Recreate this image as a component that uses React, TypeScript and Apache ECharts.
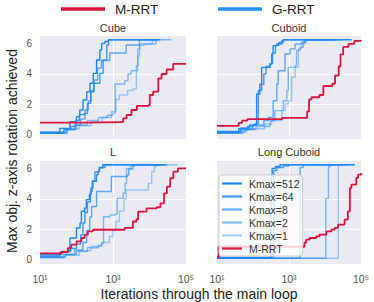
import React, { useEffect, useRef } from "react";
import * as echarts from "echarts";

const panelTitles = ["Cube", "Cuboid", "L", "Long Cuboid"];
const seriesNames = ["Kmax=512", "Kmax=64", "Kmax=8", "Kmax=2", "Kmax=1", "M-RRT"];
const yTicks = [0, 2, 4, 6];
const xTicks = [10, 1000, 100000];
const xTickLabels = ["10\u00b9", "10\u00b3", "10\u2075"];
const topLegend = ["M-RRT", "G-RRT"];
const xAxisTitle = "Iterations through the main loop";
const yAxisTitle = "Max obj. z-axis rotation achieved";

// Cube
const cubeK512 = [[10,0.1],[32,0.1],[35,0.38],[60,0.38],[66,0.82],[100,1.16],[123,1.6],[151,2.27],[191,2.82],[234,3.38],[288,4.04],[355,4.93],[437,5.6],[490,6.04],[603,6.16],[741,6.28],[20000,6.28]];
const cubeK64 = [[10,0.05],[40,0.05],[45,0.3],[70,0.5],[95,0.9],[120,1.3],[166,1.38],[200,2.04],[245,2.82],[302,3.38],[437,4.04],[537,4.93],[676,5.93],[760,6.28],[15000,6.28]];
const cubeK8 = [[10,0.05],[45,0.05],[55,0.3],[90,0.6],[130,1.0],[170,1.6],[210,2.2],[250,2.9],[300,3.6],[380,4.4],[480,4.9],[813,5.4],[2190,5.4],[2300,5.93],[4500,5.93],[5300,6.28],[16000,6.28]];
const cubeK2 = [[10,0.1],[40,0.1],[50,0.3],[100,0.6],[200,0.9],[400,1.1],[700,1.25],[1000,1.4],[1150,3.33],[1860,3.33],[2090,3.56],[2570,4.0],[3160,4.22],[4370,4.56],[4790,5.67],[5370,6.0],[13800,6.0],[15000,6.28],[40000,6.28]];
const cubeK1 = [[10,0.15],[40,0.15],[55,0.35],[120,0.55],[250,0.8],[500,1.1],[900,1.5],[1200,2.3],[1500,2.6],[2500,2.9],[3500,3.0],[4370,4.2],[4790,5.2],[5370,5.9],[7000,6.0],[12000,6.28],[20000,6.28]];
const cubeM = [[10,0.76],[150,0.76],[160,0.8],[1550,0.8],[1900,1.04],[2350,1.27],[3200,1.6],[4500,1.87],[9300,1.93],[10200,2.6],[12600,2.82],[17400,3.7],[21400,4.0],[29500,4.3],[44700,4.67],[100000,4.67]];

// Cuboid
const cuboidK512 = [[10,0.1],[35,0.1],[40,0.35],[70,0.5],[100,0.6],[115,0.67],[126,2.67],[155,3.33],[174,4.44],[214,4.44],[295,4.67],[331,5.33],[363,5.89],[457,6.0],[631,6.22],[700,6.28],[55000,6.28]];
const cuboidK64 = [[10,0.15],[35,0.15],[45,0.4],[80,0.6],[126,0.7],[140,2.9],[174,3.3],[200,4.0],[230,4.5],[300,4.7],[350,5.4],[420,5.9],[520,6.1],[700,6.28],[30000,6.28]];
const cuboidK8 = [[10,0.05],[40,0.05],[50,0.3],[100,0.6],[200,0.9],[267,1.11],[363,2.22],[457,3.33],[501,4.22],[776,5.33],[1070,5.67],[1480,6.0],[2240,6.11],[2750,6.28],[20000,6.28]];
const cuboidK2 = [[10,0.1],[40,0.1],[60,0.3],[120,0.5],[295,0.89],[407,1.56],[692,2.22],[871,2.89],[955,4.44],[1480,4.56],[1620,5.56],[2040,5.78],[2510,6.11],[3000,6.28],[15000,6.28]];
const cuboidK1 = [[10,0.2],[40,0.2],[70,0.35],[214,0.67],[331,0.9],[631,1.56],[776,2.0],[955,2.2],[1175,3.78],[1480,4.44],[1820,5.67],[2240,6.0],[2750,6.22],[3500,6.28],[12000,6.28]];
const cuboidM = [[10,0.55],[35,0.55],[40,0.75],[50,0.9],[70,1.0],[620,1.0],[650,1.08],[3000,1.08],[3200,1.5],[3600,2.3],[4200,2.45],[7000,2.6],[9000,3.2],[16000,3.35],[19000,3.9],[24000,4.5],[27000,5.3],[32000,5.8],[45000,6.0],[65000,6.2],[100000,6.25]];

// L
const lK512 = [[10,0.2],[31,0.2],[35,0.45],[58,0.55],[66,1.4],[91,1.4],[100,2.07],[125,2.4],[136,3.18],[167,3.4],[186,3.96],[226,4.29],[251,4.73],[282,5.18],[352,5.62],[389,5.84],[427,6.07],[525,6.28],[20000,6.28]];
const lK64 = [[10,0.3],[35,0.3],[40,0.5],[70,0.7],[100,1.0],[130,1.6],[150,2.4],[170,3.1],[200,3.8],[240,4.5],[270,5.2],[320,5.8],[420,6.1],[600,6.28],[25000,6.28]];
const lK8 = [[10,0.1],[35,0.1],[45,0.3],[90,0.6],[150,1.1],[190,1.9],[230,2.8],[260,3.5],[355,4.5],[830,4.5],[900,5.5],[2500,5.6],[2700,6.0],[3500,6.28],[30000,6.28]];
const lK2 = [[10,0.15],[35,0.15],[50,0.3],[100,0.5],[200,0.75],[400,0.9],[480,1.04],[550,2.82],[830,2.93],[1150,3.0],[1300,4.04],[1900,4.38],[2140,5.04],[2350,6.04],[3000,6.2],[4000,6.28],[30000,6.28]];
const lK1 = [[10,0.1],[35,0.1],[50,0.25],[120,0.55],[250,0.85],[500,1.1],[800,1.5],[1000,1.9],[1200,2.5],[1500,3.2],[2000,4.0],[2300,4.6],[8300,4.6],[9300,5.04],[11500,5.82],[13500,6.16],[15800,6.28],[60000,6.28]];
const lM = [[10,0.38],[30,0.38],[38,0.47],[58,0.73],[72,0.96],[100,1.18],[136,1.4],[167,1.62],[205,1.84],[282,1.95],[1700,1.95],[2100,2.07],[3500,2.5],[4400,2.65],[4900,3.16],[8300,3.38],[15600,3.45],[20000,3.71],[25000,4.38],[30000,4.82],[37000,5.38],[45000,5.82],[60000,6.04],[100000,6.07]];

// Long Cuboid
const longK512 = [[10,0.15],[12,0.05],[310,0.05],[320,5.6],[340,6.04],[420,6.16],[560,6.28],[68000,6.28]];
const longK64 = [[10,0.1],[370,0.1],[380,5.9],[460,6.1],[700,6.2],[1000,6.28],[40000,6.28]];
const longK8 = [[10,0.05],[2000,0.05],[2040,6.1],[2500,6.28],[30000,6.28]];
const longK2 = [[10,0.05],[10000,0.05],[10500,4.04],[12500,6.16],[14000,6.28],[20000,6.28]];
const longK1 = [[10,0.05],[22000,0.05],[23400,6.28],[60000,6.28]];
const longM = [[10,0.1],[11,0.82],[2500,0.82],[2700,1.1],[3000,1.29],[3700,1.4],[5700,1.51],[7000,1.62],[11000,1.84],[15000,1.96],[18700,2.07],[23000,2.29],[35000,2.62],[43000,3.18],[49000,4.73],[54000,4.96],[74000,5.4],[83000,5.62],[100000,5.73]];

const panelData = [
  [cubeK512, cubeK64, cubeK8, cubeK2, cubeK1, cubeM],
  [cuboidK512, cuboidK64, cuboidK8, cuboidK2, cuboidK1, cuboidM],
  [lK512, lK64, lK8, lK2, lK1, lM],
  [longK512, longK64, longK8, longK2, longK1, longM],
];

const FONT = "'Liberation Sans', Arial, sans-serif";
const seriesColors = [
  "rgba(30,136,255,1)",
  "rgba(30,136,255,0.85)",
  "rgba(30,136,255,0.7)",
  "rgba(30,136,255,0.55)",
  "rgba(30,136,255,0.4)",
  "rgb(220,20,60)",
];
const grids = [
  { left: 40, top: 36, width: 146, height: 103 },
  { left: 217, top: 36, width: 144, height: 103 },
  { left: 40, top: 161, width: 146, height: 103 },
  { left: 217, top: 161, width: 144, height: 103 },
];
const titlePos = [[113, 28], [289, 28], [113, 152], [289, 152]];

export default function App() {
  const ref = useRef<HTMLDivElement>(null);
  useEffect(() => {
    if (!ref.current) return;
    const chart = echarts.init(ref.current, null, { renderer: "svg" });
    const series: any[] = [];
    panelData.forEach((arr, gi) => {
      arr.forEach((d, si) => {
        series.push({
          type: "line",
          name: seriesNames[si],
          xAxisIndex: gi,
          yAxisIndex: gi,
          data: d,
          step: "end",
          symbol: "none",
          showSymbol: false,
          color: seriesColors[si],
          lineStyle: { color: seriesColors[si], width: si === 5 ? 1.8 : 1.4 },
          z: si === 5 ? 3 : 2,
        });
      });
    });
    const option: any = {
      animation: false,
      backgroundColor: "#ffffff",
      grid: grids.map((g) => ({ ...g, show: true, backgroundColor: "#EAEAF2", borderWidth: 0 })),
      xAxis: grids.map((_, i) => ({
        type: "log",
        logBase: 10,
        gridIndex: i,
        min: 10,
        max: 100000,
        axisLine: { show: false },
        axisTick: { show: false, customValues: xTicks },
        axisLabel: {
          show: i >= 2,
          customValues: xTicks,
          color: "#555",
          fontSize: 10.5,
          fontFamily: FONT,
          margin: 9,
          formatter: (v: number) => {
            const idx = xTicks.findIndex((t) => Math.abs(Math.log10(t) - Math.log10(v)) < 0.01);
            return idx >= 0 ? xTickLabels[idx] : "";
          },
        },
        splitLine: { show: true, showMinLine: false, showMaxLine: false, lineStyle: { color: "#ffffff", width: 1 } },
      })),
      yAxis: grids.map((_, i) => ({
        type: "value",
        gridIndex: i,
        min: -0.33,
        max: 6.53,
        axisLine: { show: false },
        axisTick: { show: false, customValues: yTicks },
        axisLabel: {
          show: i % 2 === 0,
          customValues: yTicks,
          color: "#555",
          fontSize: 10,
          fontFamily: FONT,
          margin: 8,
        },
        splitLine: { show: true, showMinLine: false, showMaxLine: false, lineStyle: { color: "#ffffff", width: 1 } },
      })),
      legend: {
        data: seriesNames,
        orient: "vertical",
        left: 219,
        top: 175,
        icon: "rect",
        itemWidth: 20,
        itemHeight: 2.2,
        itemGap: 2,
        padding: [3, 3, 2, 3],
        backgroundColor: "rgba(255,255,255,0.8)",
        borderColor: "#cccccc",
        borderWidth: 1,
        borderRadius: 3,
        textStyle: { color: "#333", fontSize: 10.5, fontFamily: FONT, padding: [0, 0, 0, 2], lineHeight: 10.5 },
        selectedMode: false,
      },
      graphic: [
        { type: "line", shape: { x1: 61, y1: 9, x2: 105, y2: 9 }, style: { stroke: "rgb(220,20,60)", lineWidth: 3.5 } },
        { type: "text", x: 115, y: 9, style: { text: topLegend[0], fill: "#222", font: `13.5px ${FONT}`, align: "left", verticalAlign: "middle", textAlign: "left", textVerticalAlign: "middle" } },
        { type: "line", shape: { x1: 218, y1: 9, x2: 262, y2: 9 }, style: { stroke: "rgb(30,144,255)", lineWidth: 3.5 } },
        { type: "text", x: 272, y: 9, style: { text: topLegend[1], fill: "#222", font: `13.5px ${FONT}`, align: "left", verticalAlign: "middle", textAlign: "left", textVerticalAlign: "middle" } },
        ...panelTitles.map((t, i) => ({
          type: "text",
          x: titlePos[i][0],
          y: titlePos[i][1],
          style: { text: t, fill: "#333", font: `11px ${FONT}`, align: "center", verticalAlign: "middle", textAlign: "center", textVerticalAlign: "middle" },
        })),
        { type: "text", x: 199, y: 294, style: { text: xAxisTitle, fill: "#222", font: `14px ${FONT}`, align: "center", verticalAlign: "middle", textAlign: "center", textVerticalAlign: "middle" } },
        { type: "text", x: 12, y: 151, rotation: Math.PI / 2, style: { text: yAxisTitle, fill: "#222", font: `14px ${FONT}`, align: "center", verticalAlign: "middle", textAlign: "center", textVerticalAlign: "middle" } },
      ],
      series,
    };
    chart.setOption(option);
    return () => chart.dispose();
  }, []);
  return <div ref={ref} style={{ position: "absolute", left: 0, top: 0, width: 374, height: 302 }} />;
}
